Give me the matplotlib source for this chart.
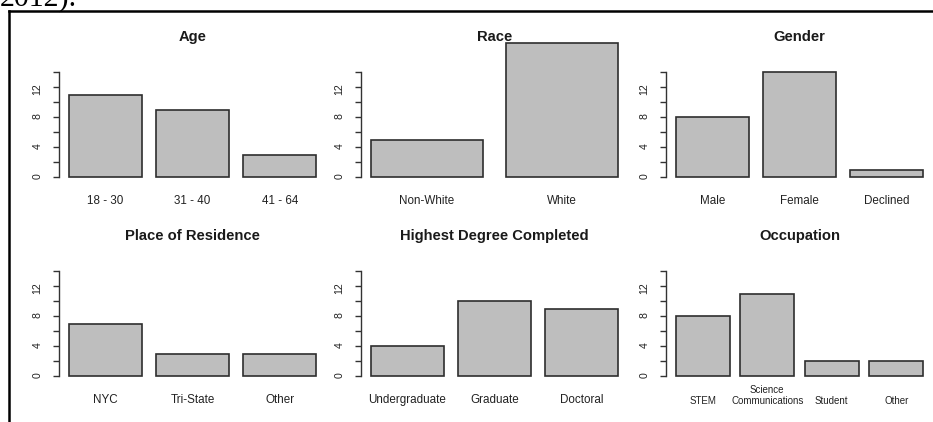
import numpy as np
import matplotlib.pyplot as plt
from matplotlib.lines import Line2D

age_labels = ['18 - 30', '31 - 40', '41 - 64']
age_counts = [11, 9, 3]
race_labels = ['Non-White', 'White']
race_counts = [5, 18]
gender_labels = ['Male', 'Female', 'Declined']
gender_counts = [8, 14, 1]
residence_labels = ['NYC', 'Tri-State', 'Other']
residence_counts = [7, 3, 3]
degree_labels = ['Undergraduate', 'Graduate', 'Doctoral']
degree_counts = [4, 10, 9]
occupation_labels = ['STEM', 'Science\nCommunications', 'Student', 'Other']
occupation_counts = [8, 11, 2, 2]

W, H = 933, 422
plt.rcParams['font.family'] = ['Liberation Sans', 'DejaVu Sans']
plt.rcParams['text.color'] = '#1a1a1a'

fig = plt.figure(figsize=(W / 100, H / 100), dpi=100)

panels = [
    ('Age', age_labels, age_counts, 8.4),
    ('Race', race_labels, race_counts, 8.4),
    ('Gender', gender_labels, gender_counts, 8.4),
    ('Place of Residence', residence_labels, residence_counts, 8.4),
    ('Highest Degree Completed', degree_labels, degree_counts, 8.4),
    ('Occupation', occupation_labels, occupation_counts, 7.0),
]

# pixel layout of the R barplot screenshot
lefts = [59, 361, 666]
zeros = [177, 376]
plot_w = 267
unit = 7.47

for i, (title, labels, counts, fs) in enumerate(panels):
    row, col = divmod(i, 3)
    ax = fig.add_axes([lefts[col] / W, (H - zeros[row]) / H, plot_w / W, 14 * unit / H])
    n = len(counts)
    x = 0.7 + 1.2 * np.arange(n)
    span = 1.2 * n - 0.2
    ax.bar(x, counts, width=1.0, color='#bebebe', edgecolor='#2e2e2e',
           linewidth=1.2, clip_on=False)
    ax.set_xlim(0.2 - 0.04 * span, 0.2 + 1.04 * span)
    ax.set_ylim(0, 14)

    for s in ['top', 'right', 'bottom']:
        ax.spines[s].set_visible(False)
    ax.spines['left'].set_bounds(0, 14)
    ax.spines['left'].set_color('#333333')
    ax.spines['left'].set_linewidth(1.0)

    ax.set_yticks(range(0, 15, 2))
    ax.set_yticklabels(['0', '', '4', '', '8', '', '12', ''], rotation=90,
                       fontsize=7.6, color='#222222')
    ax.tick_params(axis='y', direction='out', length=4.3, width=1.0,
                   color='#333333', pad=7.5)

    ax.set_xticks(x)
    ax.set_xticklabels(labels, fontsize=fs, color='#222222')
    plt.setp(ax.get_xticklabels(), va='bottom', linespacing=1.1)
    ax.tick_params(axis='x', length=0, pad=21.5)

    ax.set_title(title, fontsize=10.6, fontweight='bold', pad=22.5)

# border of the screenshot
fig.add_artist(Line2D([9 / W, 9 / W], [0, (H - 10.5) / H], color='black',
                      lw=1.8, solid_capstyle='projecting'))
fig.add_artist(Line2D([9 / W, 1], [(H - 10.5) / H, (H - 10.5) / H], color='black',
                      lw=1.8, solid_capstyle='projecting'))
fig.text(0, (H - 6) / H, '2012).', family='Liberation Serif', fontsize=21.5,
         va='baseline', ha='left', color='black')

fig.savefig('out.png', dpi=100)
